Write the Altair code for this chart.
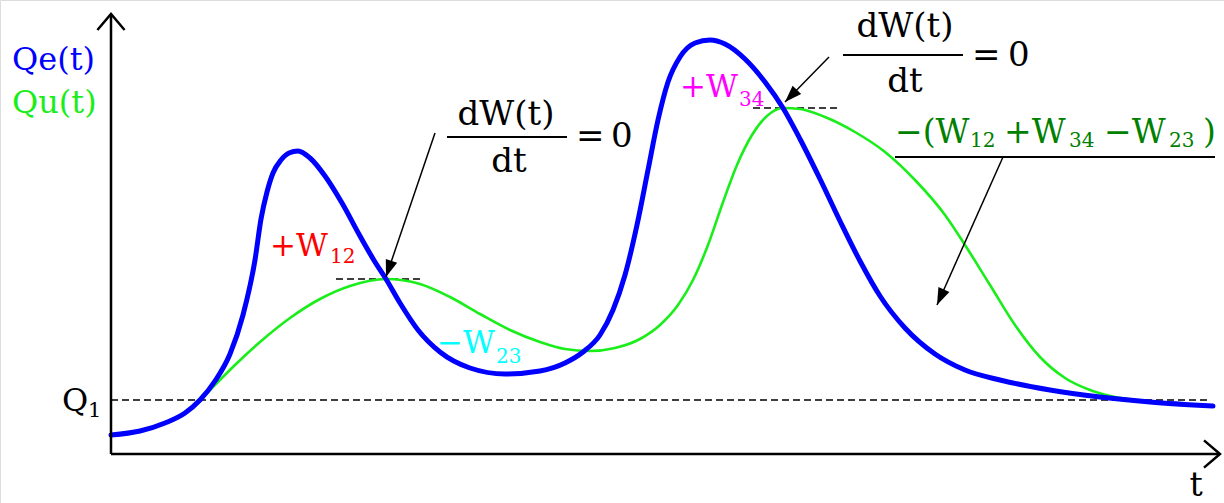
import numpy as np
import pandas as pd
import altair as alt

# Inflow hydrograph Qe(t)
qe_t = [0, 29, 54, 74, 89, 104, 119, 132, 144, 150, 156, 162, 170, 178, 187, 199, 214, 231,
        249, 264, 275, 289, 307, 329, 359, 394, 429, 454, 472, 489, 502, 514, 526, 537, 547,
        557, 569, 584, 599, 614, 634, 654, 672, 689, 709, 729, 749, 769, 794, 824, 854, 889,
        939, 989, 1039, 1102]
qe_q = [19, 23, 31, 41, 54, 73, 100, 139, 194, 235, 262, 281, 294, 301, 303, 296, 278, 251,
        218, 192, 175, 151, 124, 102, 86, 80, 83, 91, 102, 119, 144, 179, 229, 284, 334,
        372, 397, 411, 414, 410, 395, 372, 346, 315, 275, 233, 193, 158, 126, 100, 84, 74,
        64, 57, 52, 48]

# Outflow hydrograph Qu(t)
qu_t = [89, 104, 124, 149, 179, 209, 239, 275, 309, 339, 369, 399, 429, 454, 479, 504, 529,
        549, 567, 582, 597, 611, 626, 641, 656, 672, 689, 714, 744, 774, 804, 834, 854, 879,
        904, 929, 954, 979, 1004, 1026]
qu_q = [54, 69, 89, 112, 136, 155, 168, 175, 170, 157, 140, 124, 112, 105, 103, 106, 115,
        129, 149, 174, 209, 249, 289, 319, 338, 346, 345, 337, 322, 302, 274, 239, 209, 169,
        129, 97, 76, 64, 57, 54]

# Threshold discharge Q1 and the two horizontal tangents where dW/dt = 0
q1 = 54
dash_t = [0, 225, 642]
dash_t2 = [1099, 312, 729]
dash_q = [q1, 175, 346]

# Axes: vertical Q axis and horizontal t axis
axis_t = [0, 0]
axis_t2 = [0, 1109]
axis_q = [0, 0]
axis_q2 = [440, 0]

# Arrows pointing from the annotations to the curves
arrow_t = [324, 718, 892]
arrow_q = [321, 397, 297]
arrow_t2 = [275, 674, 826]
arrow_q2 = [177, 352, 149]

# Fraction bars
bar_t = [336, 732, 784]
bar_t2 = [456, 852, 1104]
bar_q = [317, 399, 297]

SERIF = "DejaVu Serif"
BLUE = "#0000ff"
GREEN = "#1aee1a"

# Text pieces: text, t, Q (baseline), size, colour, alignment
labels = [
    ("Qe(t)", -99, 384, 32, BLUE, "left"),
    ("Qu(t)", -99, 341, 32, GREEN, "left"),
    ("Q", -49, 43, 32, "black", "left"),
    ("1", -23, 37, 21, "black", "left"),
    ("t", 1085, -42, 33, "black", "center"),
    ("dW(t)", 395, 329, 34, "black", "center"),
    ("dt", 398, 282, 34, "black", "center"),
    ("=", 465, 307, 34, "black", "left"),
    ("0", 500, 307, 34, "black", "left"),
    ("dW(t)", 794, 417, 34, "black", "center"),
    ("dt", 794, 362, 34, "black", "center"),
    ("=", 861, 388, 34, "black", "left"),
    ("0", 897, 388, 34, "black", "left"),
    ("+W", 159, 198, 31, "#ff0000", "left"),
    ("12", 219, 191, 20, "#ff0000", "left"),
    ("+W", 569, 357, 31, "#ff00ff", "left"),
    ("34", 628, 348, 20, "#ff00ff", "left"),
    ("\u2212W", 326, 101, 31, "#00ffff", "left"),
    ("23", 385, 91, 20, "#00ffff", "left"),
    ("\u2212(W", 784, 311, 33, "#008000", "left"),
    ("12", 859, 307, 20, "#008000", "left"),
    ("+W", 893, 311, 33, "#008000", "left"),
    ("34", 958, 307, 20, "#008000", "left"),
    ("\u2212W", 993, 311, 33, "#008000", "left"),
    ("23", 1058, 307, 20, "#008000", "left"),
    (")", 1092, 311, 33, "#008000", "left"),
]

W, H = 1224, 503
xs = alt.Scale(domain=[-111, 1113], nice=False, zero=False)
ys = alt.Scale(domain=[-49, 454], nice=False, zero=False)


def X(f):
    return alt.X(f, type="quantitative", scale=xs, axis=None)


def Y(f):
    return alt.Y(f, type="quantitative", scale=ys, axis=None)


qe_df = pd.DataFrame({"t": qe_t, "Q": qe_q})
qu_df = pd.DataFrame({"t": qu_t, "Q": qu_q})
dash_df = pd.DataFrame({"t": dash_t, "t2": dash_t2, "Q": dash_q})
axis_df = pd.DataFrame({"t": axis_t, "t2": axis_t2, "Q": axis_q, "Q2": axis_q2})
arrow_df = pd.DataFrame({"t": arrow_t, "Q": arrow_q, "t2": arrow_t2, "Q2": arrow_q2})
arrow_df["angle"] = np.mod(np.degrees(np.arctan2(arrow_df["t2"] - arrow_df["t"],
                                                 arrow_df["Q2"] - arrow_df["Q"])), 360)
bar_df = pd.DataFrame({"t": bar_t, "t2": bar_t2, "Q": bar_q})
lab_df = pd.DataFrame(labels, columns=["text", "t", "Q", "size", "color", "anchor"])

# axis arrowheads (open chevrons) at the ends of the two axes
tips_df = pd.DataFrame({"t": [axis_t[0], axis_t2[1]], "Q": [axis_q2[0], axis_q[1]],
                        "angle": [0, 90]})

axes = alt.Chart(axis_df).mark_rule(color="black", strokeWidth=2.5).encode(
    x=X("t"), x2="t2", y=Y("Q"), y2="Q2")
chevrons = alt.Chart(tips_df).mark_point(
    shape="M-0.85,1L0,0L0.85,1", size=1024, filled=False, color="black",
    strokeWidth=2.5, opacity=1).encode(x=X("t"), y=Y("Q"), angle=alt.Angle("angle:Q", scale=None))

dashes = alt.Chart(dash_df).mark_rule(color="black", strokeWidth=1.4, strokeDash=[7, 4]).encode(
    x=X("t"), x2="t2", y=Y("Q"))

qu_line = alt.Chart(qu_df).mark_line(color=GREEN, strokeWidth=2.6, interpolate="monotone").encode(
    x=X("t"), y=Y("Q"))
qe_line = alt.Chart(qe_df).mark_line(color=BLUE, strokeWidth=5, interpolate="monotone",
                                     strokeCap="round").encode(x=X("t"), y=Y("Q"))

shafts = alt.Chart(arrow_df).mark_rule(color="black", strokeWidth=1.5).encode(
    x=X("t"), x2="t2", y=Y("Q"), y2="Q2")
heads = alt.Chart(arrow_df).mark_point(
    shape="M0,0L-0.6,1.7L0.6,1.7Z", size=400, filled=True, color="black", opacity=1).encode(
    x=X("t2"), y=Y("Q2"), angle=alt.Angle("angle:Q", scale=None))

bars = alt.Chart(bar_df).mark_rule(color="black", strokeWidth=1.8).encode(
    x=X("t"), x2="t2", y=Y("Q"))


def text_layer(anchor):
    return alt.Chart(lab_df[lab_df["anchor"] == anchor]).mark_text(
        font=SERIF, align=anchor, baseline="alphabetic").encode(
        x=X("t"), y=Y("Q"), text="text:N",
        size=alt.Size("size:Q", scale=None),
        color=alt.Color("color:N", scale=None))


chart = alt.layer(
    dashes, qu_line, qe_line, axes, chevrons, shafts, heads, bars,
    text_layer("left"), text_layer("center"),
).properties(
    width=W, height=H, padding=0, autosize=alt.AutoSizeParams(type="none"),
).configure_view(strokeWidth=0).configure(background="white")

chart.save("out.html", embed_options={"renderer": "svg", "actions": False})
